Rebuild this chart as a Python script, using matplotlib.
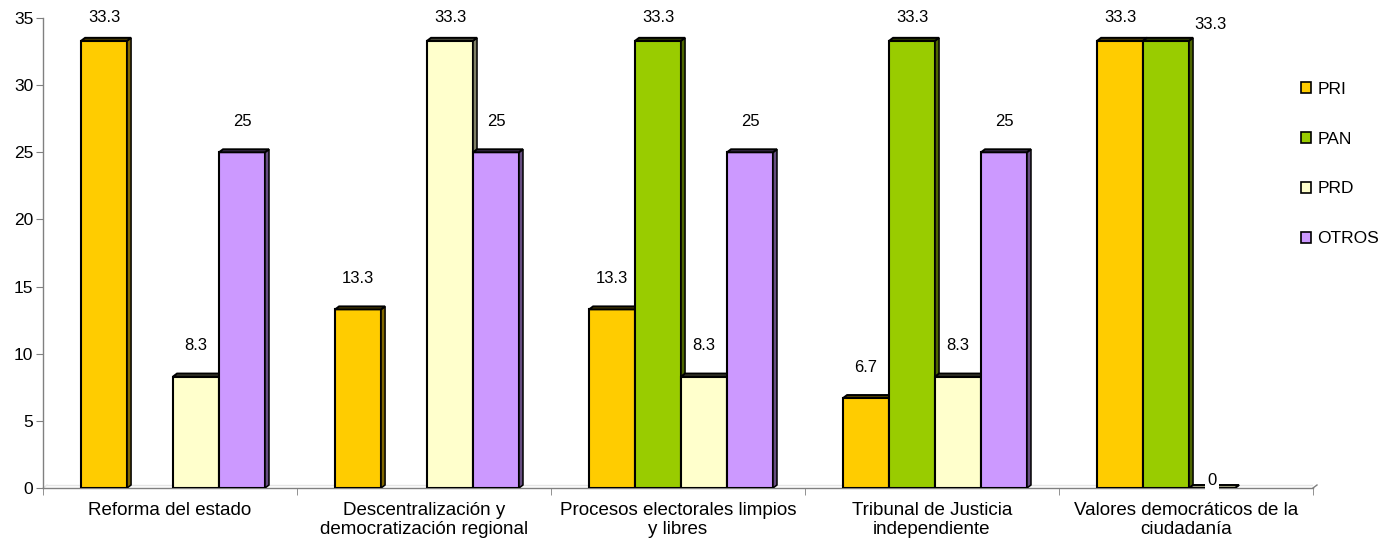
import numpy as np
import matplotlib.pyplot as plt
from matplotlib.patches import Polygon, Patch
from matplotlib.colors import to_rgb

plt.rcParams['font.family'] = ['Liberation Sans', 'DejaVu Sans']

categories = ['Reforma del estado',
              'Descentralización y\ndemocratización regional',
              'Procesos electorales limpios\ny libres',
              'Tribunal de Justicia\nindependiente',
              'Valores democráticos de la\nciudadanía']
series = ['PRI', 'PAN', 'PRD', 'OTROS']
pri = [33.3, 13.3, 13.3, 6.7, 33.3]
pan = [np.nan, np.nan, 33.3, 33.3, 33.3]
prd = [8.3, 33.3, 8.3, 8.3, 0]
otros = [25, 25, 25, 25, np.nan]
values = [pri, pan, prd, otros]
colors = ['#FFCC00', '#99CC00', '#FFFFCC', '#CC99FF']


def shade(c, f):
    r, g, b = to_rgb(c)
    return (r * f, g * f, b * f)


fig = plt.figure(figsize=(13.95, 5.46), dpi=100)
ax = fig.add_axes([43 / 1395, 58 / 546, 1270 / 1395, 470 / 546])

x = np.arange(len(categories))
w = 0.181
dx = 4 / 254     # depth in category units
dy = 3 / 13.43   # depth in data units
shift = 0.012

for j, (vals, col) in enumerate(zip(values, colors)):
    pos = x + shift + (j - 1.5) * w
    v = np.array(vals, dtype=float)
    ax.bar(pos, v, width=w, color=col, edgecolor='black', linewidth=1.5, zorder=3 + j * 3)
    for i, (p, val) in enumerate(zip(pos, v)):
        if np.isnan(val):
            continue
        x0, x1 = p - w / 2, p + w / 2
        top = Polygon([(x0, val), (x0 + dx, val + dy), (x1 + dx, val + dy), (x1, val)],
                      closed=True, facecolor=shade(col, 0.3 if val > 0 else 0.6),
                      edgecolor='black', linewidth=1.4, zorder=4 + j * 3)
        side = Polygon([(x1, 0), (x1 + dx, dy), (x1 + dx, val + dy), (x1, val)],
                       closed=True, facecolor=shade(col, 0.5), edgecolor='black',
                       linewidth=1.1, zorder=4 + j * 3)
        ax.add_patch(side)
        ax.add_patch(top)
        lx, ly = p, min(val + 2.3, 35.0)
        if (i, j) == (4, 1):
            lx, ly = p + 0.175, 34.55
        if val == 0:
            ax.text(lx, 0.55, '0', ha='center', va='center', fontsize=12,
                    bbox=dict(facecolor='white', edgecolor='none', pad=1.5), zorder=30)
        else:
            ax.text(lx, ly, f'{val:g}', ha='center', va='center', fontsize=12, zorder=30)

# floor edge
ax.plot([-0.5 + dx, 4.5 + dx], [dy, dy], color='#e6e6e6', linewidth=1, zorder=1)
ax.plot([4.5, 4.5 + dx], [0, dy], color='#808080', linewidth=1, clip_on=False, zorder=1)
ax.plot([-0.5, -0.5 + dx], [0, dy], color='#e6e6e6', linewidth=1, clip_on=False, zorder=1)

ax.set_xlim(-0.5, 4.5)
ax.set_ylim(0, 35)
ax.set_yticks(np.arange(0, 36, 5))
ax.set_xticks(x)
ax.set_xticklabels(categories, fontsize=13.5, linespacing=1.15)
ax.set_xticks(np.arange(-0.5, 5, 1), minor=True)
ax.tick_params(axis='x', which='major', length=0, pad=10)
ax.tick_params(axis='x', which='minor', length=5, color='#808080', direction='out')
ax.tick_params(axis='y', length=5, color='#808080', labelsize=12.5, pad=2)
for s in ['top', 'right']:
    ax.spines[s].set_visible(False)
for s in ['left', 'bottom']:
    ax.spines[s].set_color('#808080')
    ax.spines[s].set_linewidth(1)

handles = [Patch(facecolor=c, edgecolor='black', linewidth=1.2) for c in colors]
fig.legend(handles, series, loc='upper left', bbox_to_anchor=(1301 / 1395, 1 - 82 / 546),
           frameon=False, fontsize=12.5, handlelength=0.6, handleheight=0.6,
           handletextpad=0.35, labelspacing=2.0, borderpad=0, borderaxespad=0)

fig.savefig('out.png', dpi=100)
